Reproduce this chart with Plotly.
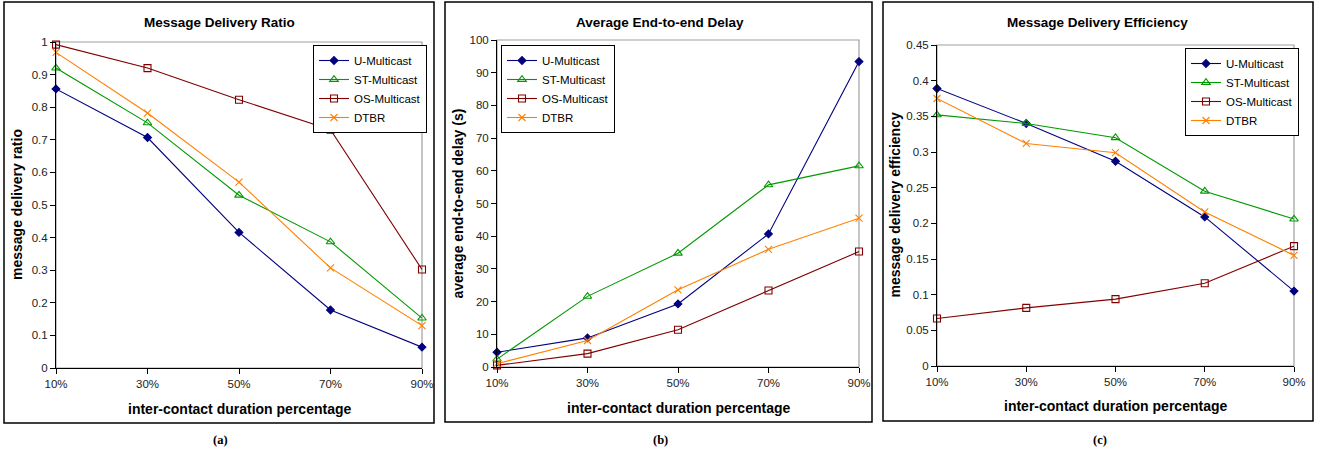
import plotly.graph_objects as go

categories = ["10%", "30%", "50%", "70%", "90%"]
series_names = ["U-Multicast", "ST-Multicast", "OS-Multicast", "DTBR"]

ratio_u = [0.856, 0.707, 0.416, 0.178, 0.064]
ratio_st = [0.920, 0.752, 0.530, 0.387, 0.153]
ratio_os = [0.992, 0.920, 0.823, 0.731, 0.302]
ratio_dtbr = [0.968, 0.782, 0.570, 0.307, 0.130]

delay_u = [4.5, 8.9, 19.3, 40.7, 93.4]
delay_st = [2.4, 21.6, 34.8, 55.7, 61.5]
delay_os = [0.5, 4.1, 11.4, 23.4, 35.3]
delay_dtbr = [1.0, 8.1, 23.6, 36.0, 45.5]

eff_u = [0.389, 0.340, 0.287, 0.209, 0.105]
eff_st = [0.352, 0.340, 0.320, 0.245, 0.206]
eff_os = [0.0665, 0.0815, 0.0937, 0.116, 0.168]
eff_dtbr = [0.375, 0.312, 0.299, 0.216, 0.155]

panel_titles = ["Message Delivery Ratio", "Average End-to-end Delay", "Message Delivery Efficiency"]
y_titles = ["message delivery ratio", "average end-to-end delay (s)", "message delivery efficiency"]
x_title = "inter-contact duration percentage"
captions = ["(a)", "(b)", "(c)"]

W, H = 1321, 455
FONT = "Liberation Sans, Arial, sans-serif"

colors = ["#000080", "#009900", "#800000", "#FF8000"]
symbols = ["diamond", "triangle-up-open", "square-open", "x-thin-open"]
msizes = [6, 7.5, 7, 7]

panels = [
    dict(data=[ratio_u, ratio_st, ratio_os, ratio_dtbr], yrange=[0, 1], dtick=0.1,
         px=(56, 422), py=(42, 368), box=(4, 2, 434, 423), legend=(313, 45),
         title_x=219, ytitle_x=17, xtitle_y=409, cap_x=220),
    dict(data=[delay_u, delay_st, delay_os, delay_dtbr], yrange=[0, 100], dtick=10,
         px=(497, 859), py=(40, 367), box=(445, 2, 872, 422), legend=(501, 45),
         title_x=660, ytitle_x=458, xtitle_y=408, cap_x=660),
    dict(data=[eff_u, eff_st, eff_os, eff_dtbr], yrange=[0, 0.45], dtick=0.05,
         px=(937, 1294), py=(45, 366), box=(883, 2, 1313, 421), legend=(1185, 48),
         title_x=1097, ytitle_x=895, xtitle_y=406, cap_x=1100),
]

fig = go.Figure()
shapes = []
annotations = []
layout = {}
legend_keys = ["legend", "legend2", "legend3"]


def ann(text, x, y, size, family=FONT, angle=0):
    return dict(text=text, xref="paper", yref="paper", x=x / W, y=1 - y / H,
                xanchor="center", yanchor="middle", showarrow=False, textangle=angle,
                font=dict(family=family, size=size, color="black"))


for i, p in enumerate(panels):
    sfx = "" if i == 0 else str(i + 1)
    xa, ya = "x" + sfx, "y" + sfx
    for j, name in enumerate(series_names):
        fig.add_trace(go.Scatter(
            x=categories, y=p["data"][j], name=name, mode="lines+markers",
            xaxis=xa, yaxis=ya, legend=legend_keys[i], cliponaxis=False,
            line=dict(color=colors[j], width=1.1),
            marker=dict(symbol=symbols[j], size=msizes[j], color=colors[j],
                        line=dict(color=colors[j], width=1.1)),
        ))
    x0, x1 = p["px"]
    ytop, ybot = p["py"]
    layout["xaxis" + sfx] = dict(
        domain=[x0 / W, x1 / W], anchor=ya, type="category", range=[0, 4],
        showline=True, linecolor="black", linewidth=1, ticks="outside", ticklen=5,
        tickcolor="black", showgrid=False, zeroline=False,
        tickfont=dict(family=FONT, size=11.5, color="#222"),
    )
    layout["yaxis" + sfx] = dict(
        domain=[1 - ybot / H, 1 - ytop / H], anchor=xa, range=p["yrange"], dtick=p["dtick"],
        showline=True, linecolor="black", linewidth=1, ticks="outside", ticklen=5,
        tickcolor="black", showgrid=False, zeroline=False,
        tickfont=dict(family=FONT, size=11.5, color="#222"),
    )
    shapes.append(dict(type="rect", xref=xa + " domain", yref=ya + " domain",
                       x0=0, x1=1, y0=0, y1=1, line=dict(color="#a0a0a0", width=1.2),
                       layer="below"))
    bx0, by0, bx1, by1 = p["box"]
    shapes.append(dict(type="rect", xref="paper", yref="paper",
                       x0=bx0 / W, x1=bx1 / W, y0=1 - by1 / H, y1=1 - by0 / H,
                       line=dict(color="black", width=1.5)))
    annotations.append(ann("<b>" + panel_titles[i] + "</b>", p["title_x"], 22, 13.5))
    annotations.append(ann("<b>" + x_title + "</b>", (x0 + x1) / 2, p["xtitle_y"], 14))
    annotations.append(ann("<b>" + y_titles[i] + "</b>", p["ytitle_x"], (ytop + ybot) / 2, 14,
                           angle=-90))
    annotations.append(ann("<b>" + captions[i] + "</b>", p["cap_x"], 440, 12.5,
                           family="Liberation Serif, Times New Roman, serif"))
    lx, ly = p["legend"]
    layout[legend_keys[i]] = dict(
        x=lx / W, y=1 - ly / H, xanchor="left", yanchor="top", xref="paper", yref="paper",
        bgcolor="white", bordercolor="black", borderwidth=1, tracegroupgap=0,
        font=dict(family=FONT, size=11.5, color="black"),
    )

fig.update_layout(
    width=W, height=H, margin=dict(l=0, r=0, t=0, b=0, autoexpand=False),
    paper_bgcolor="white", plot_bgcolor="white",
    shapes=shapes, annotations=annotations, showlegend=True,
    **layout,
)

fig.write_html("out.html")
